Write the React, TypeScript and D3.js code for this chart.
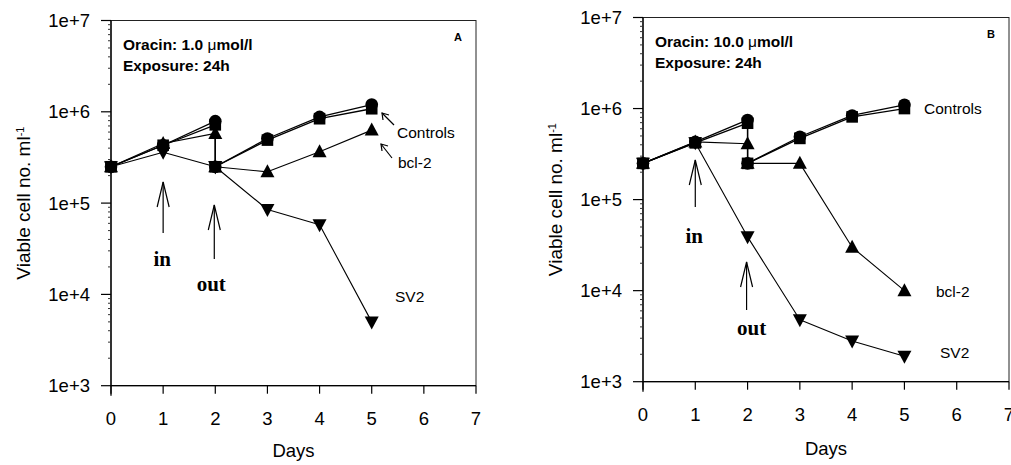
import * as d3 from "d3";
import React from "react";

// days of measurement; day 2 appears twice because the cells were reseeded after washout
const days = [0, 1, 2, 2, 3, 4, 5];
const daysNoReset = [0, 1, 2, 3, 4, 5];
const xTicks = [0, 1, 2, 3, 4, 5, 6, 7];
const yTicks = [1e3, 1e4, 1e5, 1e6, 1e7];
const yTickLabels = ["1e+3", "1e+4", "1e+5", "1e+6", "1e+7"];

// panel A, oracin 1.0 umol/l
const ctrlCircleA = [2.5e5, 4.3e5, 7.9e5, 2.5e5, 5.1e5, 8.8e5, 1.2e6];
const ctrlSquareA = [2.5e5, 4.3e5, 7.2e5, 2.5e5, 4.9e5, 8.4e5, 1.08e6];
const bcl2A = [2.5e5, 4.5e5, 5.8e5, 2.5e5, 2.2e5, 3.65e5, 6.3e5];
const sv2A = [2.5e5, 3.6e5, 2.5e5, 2.5e5, 8.5e4, 5.8e4, 5.0e3];

// panel B, oracin 10.0 umol/l
const ctrlCircleB = [2.5e5, 4.3e5, 7.5e5, 2.5e5, 4.9e5, 8.4e5, 1.1e6];
const ctrlSquareB = [2.5e5, 4.2e5, 6.9e5, 2.5e5, 4.7e5, 8.1e5, 1.0e6];
const bcl2B = [2.5e5, 4.3e5, 4.1e5, 2.5e5, 2.5e5, 3.0e4, 1.0e4];
const sv2B = [2.5e5, 4.2e5, 3.9e4, 4.8e3, 2.8e3, 1.9e3];

const sans = "'Liberation Sans', Arial, sans-serif";
const serif = "'Liberation Serif', 'Times New Roman', serif";

function Marker({ shape, cx, cy }) {
  if (shape === "circle") return <circle cx={cx} cy={cy} r={6.3} fill="#000" />;
  if (shape === "square") return <rect x={cx - 5.8} y={cy - 5.8} width={11.6} height={11.6} fill="#000" />;
  if (shape === "up")
    return <polygon points={`${cx},${cy - 7.5} ${cx - 7},${cy + 5.5} ${cx + 7},${cy + 5.5}`} fill="#000" />;
  return <polygon points={`${cx},${cy + 7.5} ${cx - 7},${cy - 5.5} ${cx + 7},${cy - 5.5}`} fill="#000" />;
}

function UpArrow({ x, tip, tail, head = 25, half = 6, width = 1.2 }) {
  return (
    <g stroke="#000" strokeWidth={width} fill="none">
      <line x1={x} y1={tail} x2={x} y2={tip} />
      <polyline points={`${x - half},${tip + head} ${x},${tip} ${x + half},${tip + head}`} />
    </g>
  );
}

function Panel(props) {
  const { left, right, top, bottom, series, letter, dose, inArrow, outArrow, labels, pointers, titleX, daysY } = props;
  const x = d3.scaleLinear().domain([0, 7]).range([left, right]);
  const y = d3.scaleLog().domain([1e3, 1e7]).range([bottom, top]);

  const minor = [];
  for (let d = 1e3; d < 1e7; d *= 10) {
    for (let k = 2; k <= 9; k++) minor.push(d * k);
  }

  return (
    <g>
      {/* frame */}
      <rect x={left} y={top} width={right - left} height={bottom - top} fill="none" stroke="#222" strokeWidth={1} />
      <line x1={left} y1={top} x2={left} y2={bottom + 10} stroke="#000" strokeWidth={1.3} />
      <line x1={left} y1={bottom} x2={right} y2={bottom} stroke="#000" strokeWidth={1.3} />

      {/* y axis */}
      {minor.map((m, i) => (
        <line key={"m" + i} x1={left - 3} x2={left} y1={y(m)} y2={y(m)} stroke="#333" strokeWidth={1} />
      ))}
      {yTicks.map((t, i) => (
        <g key={"y" + i}>
          <line x1={left - 10} x2={left} y1={y(t)} y2={y(t)} stroke="#000" strokeWidth={1.2} />
          <text x={left - 21} y={y(t)} dy="0.36em" textAnchor="end" fontFamily={sans} fontSize={18.5}>
            {yTickLabels[i]}
          </text>
        </g>
      ))}

      {/* x axis */}
      {xTicks.map((t) => (
        <g key={"x" + t}>
          <line x1={x(t)} x2={x(t)} y1={bottom} y2={bottom + 8} stroke="#000" strokeWidth={1.2} />
          <text x={x(t)} y={bottom + 39} textAnchor="middle" fontFamily={sans} fontSize={18.5}>
            {t}
          </text>
        </g>
      ))}
      <text x={(left + right) / 2} y={daysY} textAnchor="middle" fontFamily={sans} fontSize={18.5}>
        Days
      </text>
      <text
        transform={`translate(${titleX},${(top + bottom) / 2}) rotate(-90)`}
        textAnchor="middle"
        dy="0.35em"
        fontFamily={sans}
        fontSize={19}
      >
        Viable cell no. ml
        <tspan dy="-0.55em" fontSize={11}>-1</tspan>
      </text>

      {/* series lines */}
      {series.map((s, i) => {
        const pts = s.x.map((d, j) => [x(d), y(s.y[j])]);
        return (
          <path key={"l" + i} d={d3.line()(pts)} fill="none" stroke="#000" strokeWidth={s.w} strokeLinejoin="round" />
        );
      })}
      {series.map((s, i) =>
        s.x.map((d, j) => <Marker key={"p" + i + "-" + j} shape={s.shape} cx={x(d)} cy={y(s.y[j])} />)
      )}

      {/* annotations */}
      <text x={left + 12} y={top + 29} fontFamily={sans} fontWeight="bold" fontSize={15.5}>
        Oracin: {dose} <tspan fontWeight="normal">μ</tspan>mol/l
      </text>
      <text x={left + 12} y={top + 50} fontFamily={sans} fontWeight="bold" fontSize={15.5}>
        Exposure: 24h
      </text>
      <text x={right - 18} y={top + 20} textAnchor="middle" fontFamily={sans} fontWeight="bold" fontSize={11}>
        {letter}
      </text>

      <UpArrow x={x(1)} tip={inArrow.tip} tail={inArrow.tail} />
      <text x={x(1) - 1} y={inArrow.textY} textAnchor="middle" fontFamily={serif} fontWeight="bold" fontSize={21}>
        in
      </text>
      <UpArrow x={x(2) - 1} tip={outArrow.tip} tail={outArrow.tail} />
      <text x={x(2) + outArrow.dx} y={outArrow.textY} textAnchor="middle" fontFamily={serif} fontWeight="bold" fontSize={21}>
        out
      </text>

      {labels.map((l, i) => (
        <text key={"t" + i} x={l.x} y={l.y} fontFamily={sans} fontSize={15.5}>
          {l.text}
        </text>
      ))}
      {pointers.map((p, i) => (
        <g key={"a" + i} stroke="#000" strokeWidth={1.2} fill="none">
          <line x1={p.x1} y1={p.y1} x2={p.x2} y2={p.y2} />
          <polyline points={`${p.x2 + 1},${p.y2 + 7} ${p.x2},${p.y2} ${p.x2 + 7},${p.y2 + 2}`} />
        </g>
      ))}
    </g>
  );
}

export default function App() {
  const seriesA = [
    { x: days, y: ctrlSquareA, shape: "square", w: 1.3 },
    { x: days, y: ctrlCircleA, shape: "circle", w: 1.3 },
    { x: days, y: bcl2A, shape: "up", w: 1.1 },
    { x: days, y: sv2A, shape: "down", w: 1.1 },
  ];
  const seriesB = [
    { x: days, y: ctrlSquareB, shape: "square", w: 1.3 },
    { x: days, y: ctrlCircleB, shape: "circle", w: 1.3 },
    { x: days, y: bcl2B, shape: "up", w: 1.1 },
    { x: daysNoReset, y: sv2B, shape: "down", w: 1.1 },
  ];

  return (
    <svg
      width={1011}
      height={465}
      style={{ position: "absolute", left: 0, top: 0, background: "#fff" }}
    >
      <Panel
        left={111}
        right={476}
        top={20.5}
        bottom={385.7}
        series={seriesA}
        letter="A"
        dose="1.0"
        titleX={23}
        daysY={457}
        inArrow={{ tip: 182, tail: 233, textY: 266 }}
        outArrow={{ tip: 205, tail: 259, textY: 291, dx: -4 }}
        labels={[
          { text: "Controls", x: 397, y: 138 },
          { text: "bcl-2", x: 398, y: 168 },
          { text: "SV2", x: 395, y: 302 },
        ]}
        pointers={[
          { x1: 394, y1: 125, x2: 382, y2: 113 },
          { x1: 392, y1: 158, x2: 381, y2: 144 },
        ]}
      />
      <Panel
        left={643}
        right={1009}
        top={17.5}
        bottom={381.7}
        series={seriesB}
        letter="B"
        dose="10.0"
        titleX={555}
        daysY={455}
        inArrow={{ tip: 160, tail: 207, textY: 243 }}
        outArrow={{ tip: 262, tail: 310, textY: 335, dx: 4 }}
        labels={[
          { text: "Controls", x: 924, y: 114 },
          { text: "bcl-2", x: 936, y: 297 },
          { text: "SV2", x: 940, y: 358 },
        ]}
        pointers={[]}
      />
    </svg>
  );
}
